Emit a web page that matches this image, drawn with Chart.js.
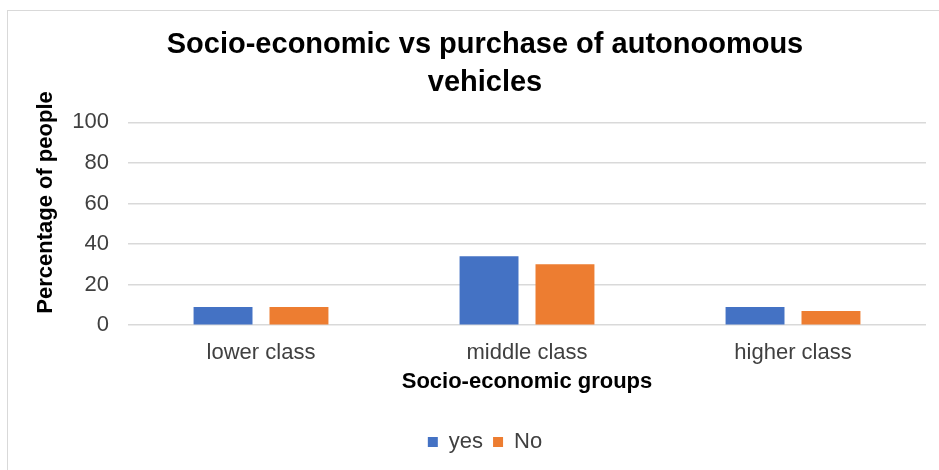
<!DOCTYPE html>
<html><head><meta charset="utf-8">
<script src="https://cdn.jsdelivr.net/npm/chart.js@4"></script>
<style>
html,body{margin:0;padding:0;background:#fff;overflow:hidden;width:939px;height:470px;}
#wrap{position:absolute;left:7px;top:10px;width:956px;height:470px;border:1px solid #d9d9d9;box-sizing:border-box;}
</style></head><body>
<div id="wrap"><canvas id="c" width="956" height="460"></canvas></div>
<script>
const categories = ["lower class", "middle class", "higher class"];
const yesValues = [9, 34, 9];
const noValues = [9, 30, 7];
const seriesNames = ["yes", "No"];
const titleLines = ["Socio-economic vs purchase of autonoomous", "vehicles"];
const yTitle = "Percentage of people";
const xTitle = "Socio-economic groups";
const yTicks = [0, 20, 40, 60, 80, 100];

const FONT = "'Liberation Sans', Arial, sans-serif";

const yTitlePlugin = {
  id: 'yTitlePlugin',
  afterDraw(chart) {
    const ctx = chart.ctx;
    ctx.save();
    ctx.translate(37.5, 191.5);
    ctx.rotate(-Math.PI / 2);
    ctx.font = "bold 22px " + FONT;
    ctx.fillStyle = '#000';
    ctx.textAlign = 'center';
    ctx.textBaseline = 'middle';
    ctx.fillText(yTitle, 0, 0);
    ctx.restore();
  }
};

const centerShiftPlugin = {
  id: 'centerShiftPlugin',
  afterLayout(chart) {
    [chart.legend, chart.titleBlock].forEach(b => {
      if (b) { b.left += 8; b.right += 8; }
    });
  }
};

new Chart(document.getElementById('c'), {
  type: 'bar',
  data: {
    labels: categories,
    datasets: [
      {label: seriesNames[0], data: yesValues, backgroundColor: '#4472C4', categoryPercentage: 0.571, barPercentage: 0.776},
      {label: seriesNames[1], data: noValues, backgroundColor: '#ED7D31', categoryPercentage: 0.571, barPercentage: 0.776}
    ]
  },
  plugins: [yTitlePlugin, centerShiftPlugin],
  options: {
    responsive: false,
    animation: false,
    layout: {padding: {left: 20, right: 38, top: 0, bottom: 8}},
    plugins: {
      title: {display: true, text: titleLines, color: '#000', font: {family: FONT, size: 29, weight: 'bold', lineHeight: 1.3}, padding: {top: 15, bottom: 21}},
      legend: {position: 'bottom', labels: {color: '#404040', font: {family: FONT, size: 22}, boxWidth: 10, boxHeight: 10, padding: 10}},
      tooltip: {enabled: false}
    },
    scales: {
      x: {
        afterFit: s => { s.height = 95.8; },
        grid: {display: false, drawTicks: false},
        border: {display: false},
        ticks: {color: '#404040', font: {family: FONT, size: 22}, padding: 15},
        title: {display: true, text: xTitle, color: '#000', font: {family: FONT, size: 22, weight: 'bold', lineHeight: 1.2}, padding: {top: 0, bottom: 25.6}}
      },
      y: {
        min: 0, max: 100,
        afterBuildTicks: s => { s.ticks = yTicks.map(v => ({value: v})); },
        afterFit: s => { s.width = 100; },
        grid: {color: '#d9d9d9', lineWidth: 1.5, drawTicks: false},
        border: {display: false},
        ticks: {color: '#404040', font: {family: FONT, size: 22}, padding: 19}
      }
    }
  }
});
</script></body></html>
